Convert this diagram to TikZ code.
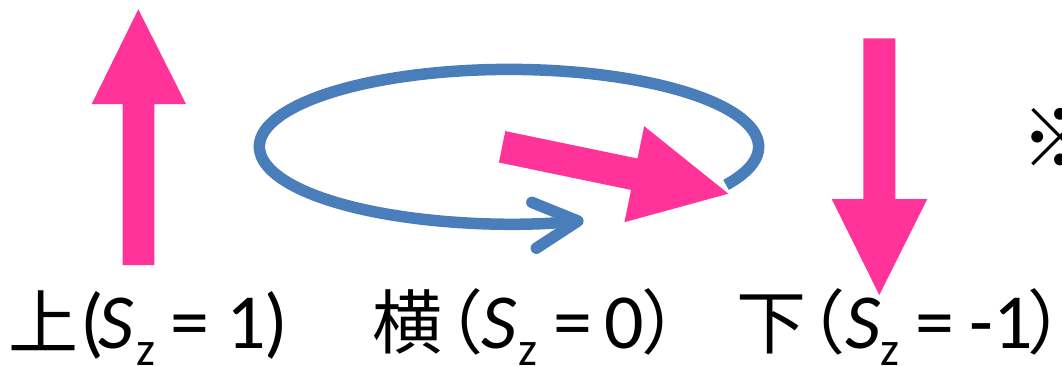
\documentclass[tikz,border=0pt]{standalone}
\usepackage{fontspec}
\setmainfont{Carlito}
\newfontfamily\cjk{Noto Sans CJK JP}
\usetikzlibrary{arrows.meta}
\definecolor{spinpink}{RGB}{255,51,153}
\definecolor{orbitblue}{RGB}{74,126,187}
\newcommand\jp[1]{{\cjk\fontsize{70pt}{70pt}\selectfont #1}}
\newcommand\subz{\raisebox{-17pt}{\fontsize{48pt}{48pt}\selectfont z}}
\newcommand\pc[2]{\makebox[#1pt][l]{#2}}
\begin{document}
\begin{tikzpicture}[x=1pt,y=-1pt,
  spin/.style={fill=spinpink,draw=none},
  orbit/.style={draw=orbitblue,line width=11.5pt},
  lbl/.style={anchor=base west,inner sep=0pt,font=\fontsize{78pt}{80pt}\selectfont},
  ]
\useasboundingbox (0,0) rectangle (1062,365);
% orbit
\coordinate (c) at (509,146.7);
\draw[orbit,-{Straight Barb[length=44pt,width=46pt,round]}]
  ([shift={(29.6:249.6 and 77.3)}]c) arc[start angle=29.6,end angle=-287.4,x radius=249.6,y radius=77.3];
% up spin
\fill[spin] (122.7,265) -- (122.7,104) -- (91.7,104) -- (138.3,9.3) -- (186,104) -- (154.3,104) -- (154.3,265) -- cycle;
% down spin
\fill[spin] (863.3,38.3) -- (863.3,199) -- (831.7,199) -- (879.3,295) -- (927.3,199) -- (895.3,199) -- (895.3,38.3) -- cycle;
% side spin
\fill[spin] (505.3,131.1) -- (637.5,158.5) -- (644.2,126.2) -- (728.3,193.7) -- (624.4,222.2) -- (631.1,189.9) -- (498.9,162.5) -- cycle;
% labels
\node[lbl] (up) at (8.5,348) {\pc{72}{\jp{上}}\pc{18}{(}\pc{37.5}{\textit{S}}\pc{34.6}{\subz}\pc{55.7}{=}\pc{38.2}{1})};
\node[lbl] (side) at (372.2,348) {\pc{41.3}{\jp{横}}\pc{68}{\jp{（}}\pc{36.5}{\textit{S}}\pc{35.6}{\subz}\pc{50.4}{=}\pc{37.5}{0}\pc{30}{\jp{）}}};
\node[lbl] (down) at (736.5,348) {\pc{39}{\jp{下}}\pc{70}{\jp{（}}\pc{34.5}{\textit{S}}\pc{35.6}{\subz}\pc{53.4}{=}\pc{58.5}{-1}\pc{30}{\jp{）}}};
% note mark
\node[anchor=base west,inner sep=0pt,font=\cjk\fontsize{80pt}{80pt}\selectfont] (note) at (1020,167) {※};
\end{tikzpicture}
\end{document}
